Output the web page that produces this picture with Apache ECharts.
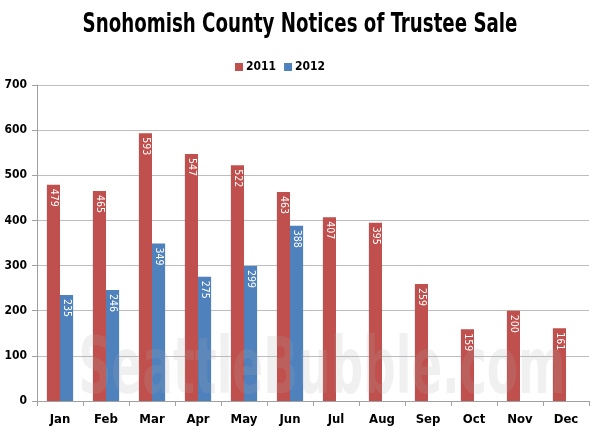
<!DOCTYPE html>
<html><head><meta charset="utf-8">
<script src="https://cdn.jsdelivr.net/npm/echarts@6/dist/echarts.min.js"></script>
<style>html,body{margin:0;padding:0;background:#fff}#c{width:600px;height:436px}</style>
</head><body><div id="c"></div>
<script>
var categories = ['Jan','Feb','Mar','Apr','May','Jun','Jul','Aug','Sep','Oct','Nov','Dec'];
var s2011 = [479,465,593,547,522,463,407,395,259,159,200,161];
var s2012 = [235,246,349,275,299,388,null,null,null,null,null,null];
var yTicks = [0,100,200,300,400,500,600,700];
var titleText = 'Snohomish County Notices of Trustee Sale';
var FONT = "'DejaVu Sans Condensed','Liberation Sans Narrow',sans-serif";
var chart = echarts.init(document.getElementById('c'));
var lbl = {show:true, position:'insideTop', rotate:-90, align:'left', verticalAlign:'middle', distance:4,
  color:'#fff', fontSize:10.5, fontFamily:FONT};
chart.setOption({
  animation:false,
  legend:{top:56, left:230, itemWidth:8, itemHeight:8, itemGap:8, icon:'rect',
    textStyle:{fontFamily:FONT, fontWeight:'bold', fontSize:12, color:'#000', padding:[0,0,0,-2]}},
  grid:{left:37, right:11, top:85, bottom:35},
  xAxis:{type:'category', data:categories,
    axisLine:{lineStyle:{color:'#a0a0a0'}},
    axisTick:{show:true, length:5, lineStyle:{color:'#a0a0a0'}},
    axisLabel:{margin:12, fontFamily:FONT, fontWeight:'bold', fontSize:13, color:'#000'}},
  yAxis:{type:'value', min:yTicks[0], max:yTicks[yTicks.length-1], interval:100,
    axisLine:{show:true, lineStyle:{color:'#a0a0a0'}},
    axisTick:{show:true, length:5, lineStyle:{color:'#a0a0a0'}},
    splitLine:{lineStyle:{color:'#bdbdbd'}},
    axisLabel:{margin:10, fontFamily:FONT, fontWeight:'bold', fontSize:12, color:'#000'}},
  series:[
    {name:'2011', type:'bar', data:s2011, barGap:'0%', barCategoryGap:'43%',
      itemStyle:{color:'#C0504D'}, label:lbl},
    {name:'2012', type:'bar', data:s2012,
      itemStyle:{color:'#4F81BD'}, label:lbl}
  ],
  graphic:[
    {type:'text', x:300, y:11, scaleX:0.75, z:100, silent:true,
      style:{text:titleText, x:0, y:0, textAlign:'center', textVerticalAlign:'top',
        fontFamily:FONT, fontWeight:'bold', fontSize:27, fill:'#000'}},
    {type:'text', x:322, y:334, scaleX:0.65, z:100, silent:true,
      style:{text:'SeattleBubble.com', x:0, y:0, textAlign:'center', textVerticalAlign:'top',
        fontFamily:FONT, fontWeight:'bold', fontSize:78, fill:'rgba(170,170,170,0.18)'}}
  ]
});
</script></body></html>
